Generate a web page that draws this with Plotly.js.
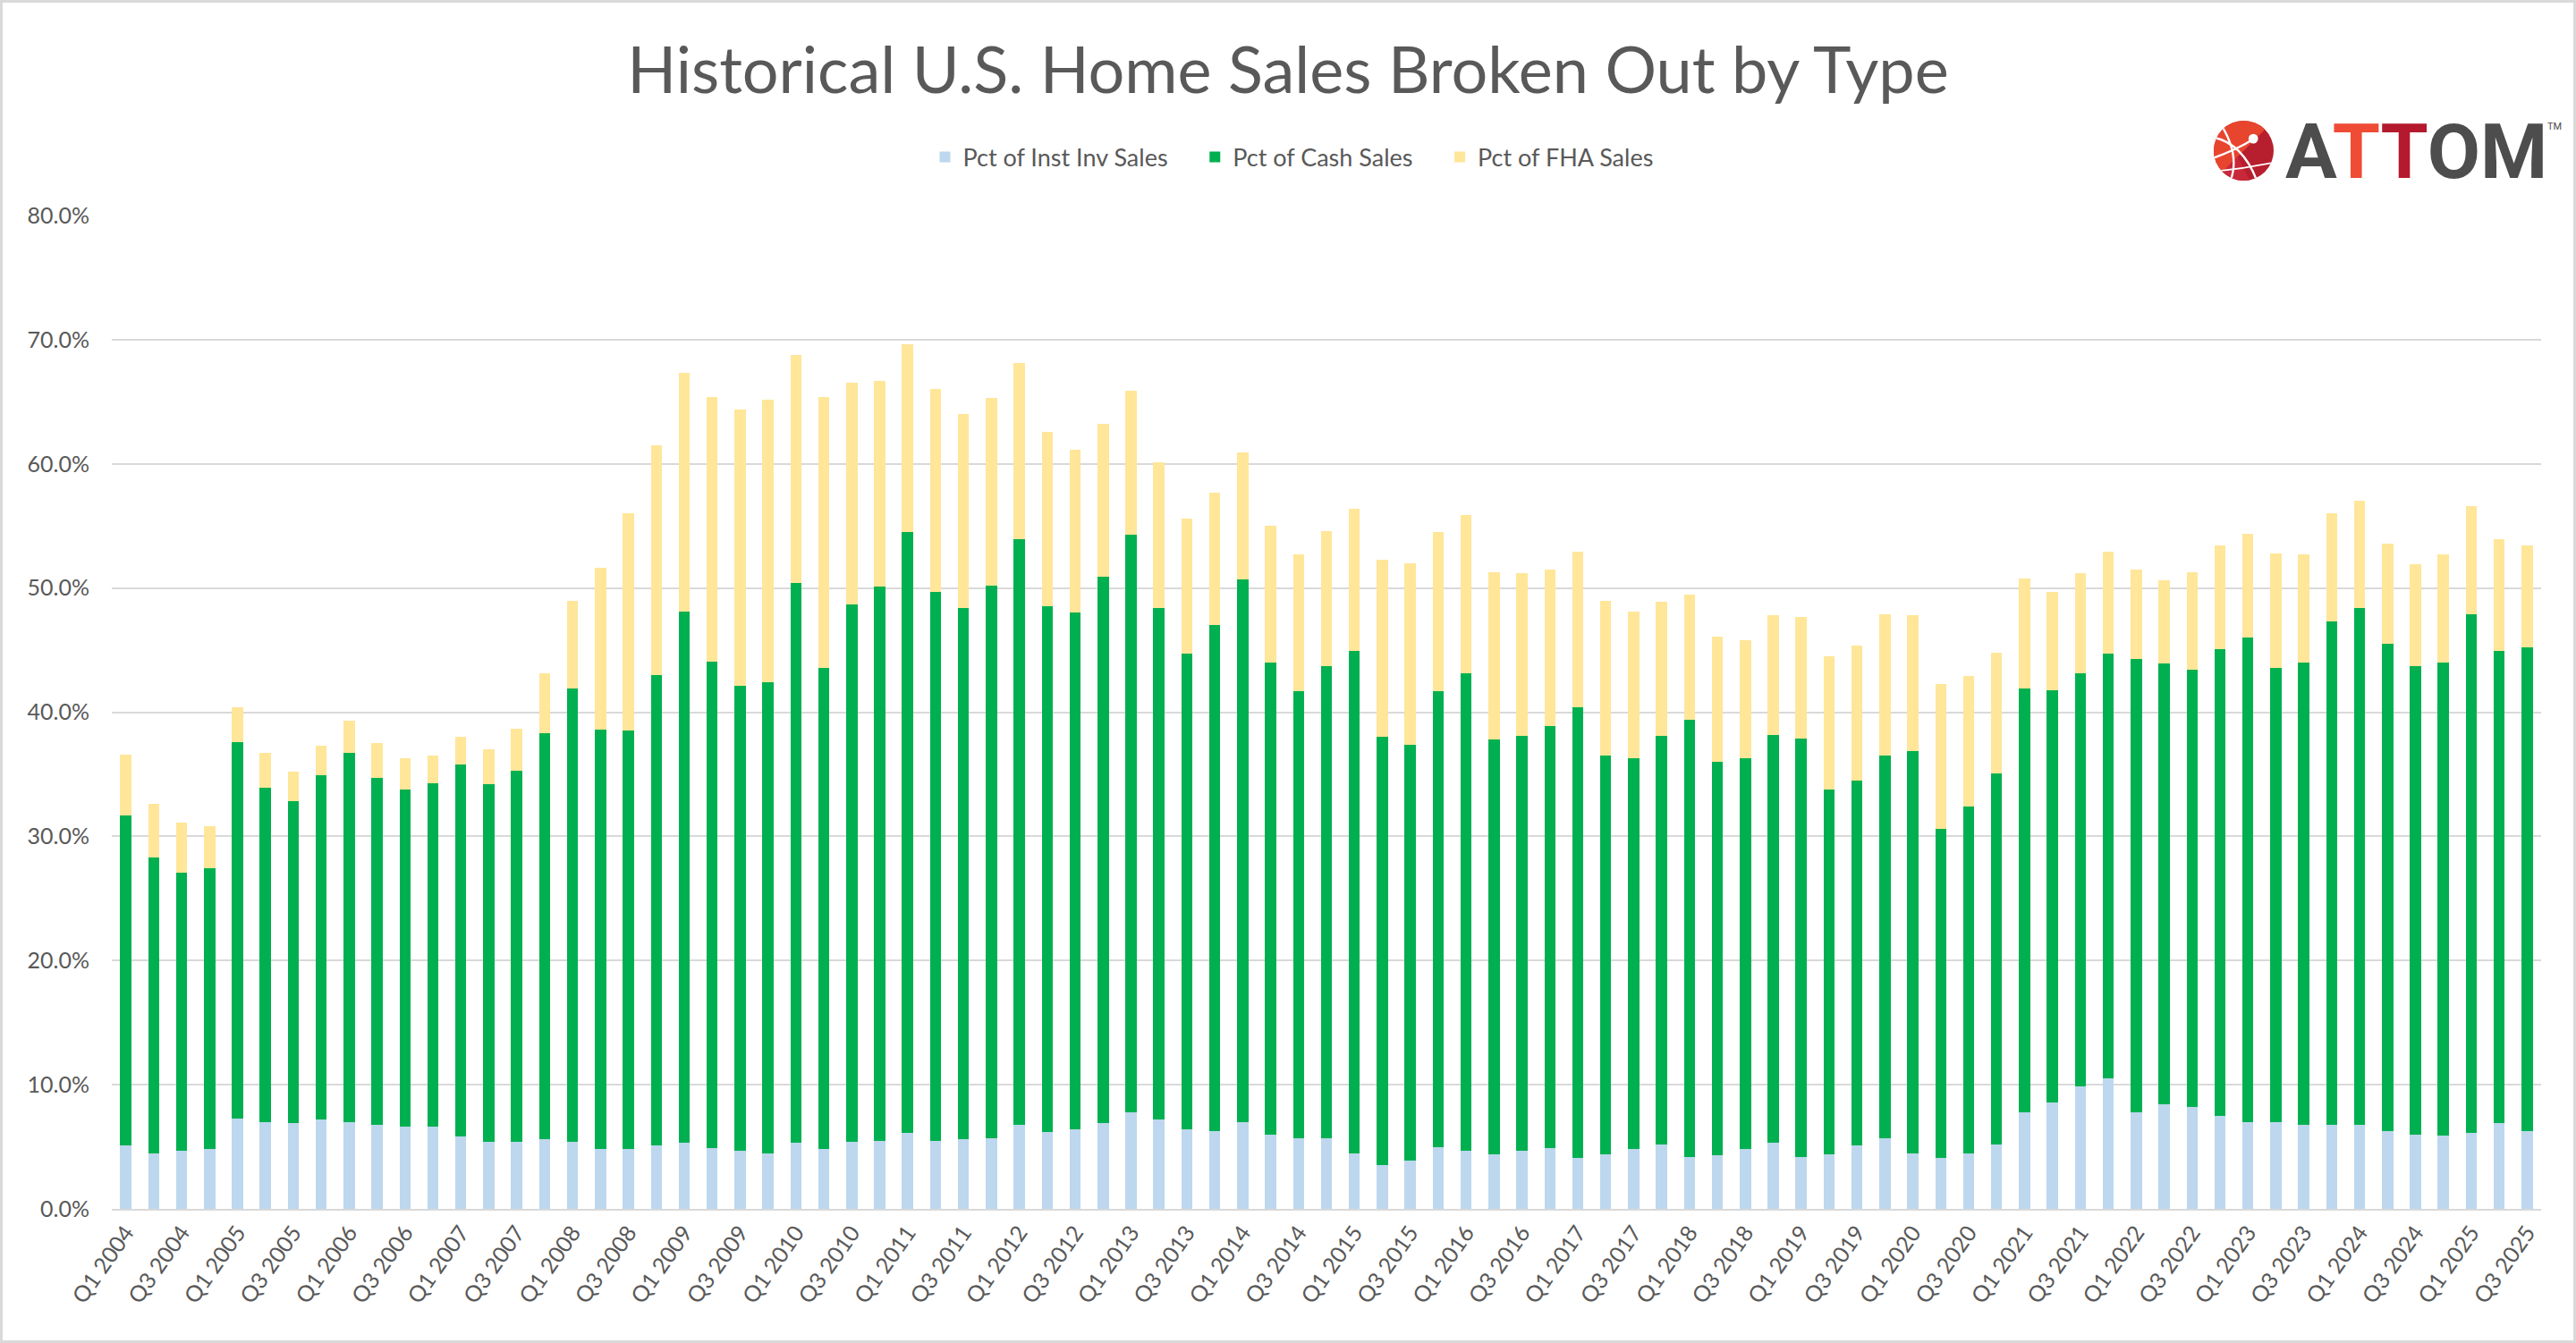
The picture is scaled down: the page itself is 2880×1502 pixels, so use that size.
<!DOCTYPE html>
<html>
<head>
<meta charset="utf-8">
<script src="https://cdn.plot.ly/plotly-3.0.1.min.js"></script>
<style>
  html, body { margin: 0; padding: 0; background: #ffffff; }
  #wrap { position: relative; width: 2880px; height: 1502px; }
  #chart { width: 2880px; height: 1502px; }
  #frame { position: absolute; left: 0; top: 0; width: 2880px; height: 1502px; box-sizing: border-box; border: 3px solid #d9d9d9; pointer-events: none; }
</style>
</head>
<body>
<div id="wrap"><div id="chart"></div><div id="frame"></div></div>
<script>
const quarters = [
  "Q1 2004","Q2 2004","Q3 2004","Q4 2004",
  "Q1 2005","Q2 2005","Q3 2005","Q4 2005",
  "Q1 2006","Q2 2006","Q3 2006","Q4 2006",
  "Q1 2007","Q2 2007","Q3 2007","Q4 2007",
  "Q1 2008","Q2 2008","Q3 2008","Q4 2008",
  "Q1 2009","Q2 2009","Q3 2009","Q4 2009",
  "Q1 2010","Q2 2010","Q3 2010","Q4 2010",
  "Q1 2011","Q2 2011","Q3 2011","Q4 2011",
  "Q1 2012","Q2 2012","Q3 2012","Q4 2012",
  "Q1 2013","Q2 2013","Q3 2013","Q4 2013",
  "Q1 2014","Q2 2014","Q3 2014","Q4 2014",
  "Q1 2015","Q2 2015","Q3 2015","Q4 2015",
  "Q1 2016","Q2 2016","Q3 2016","Q4 2016",
  "Q1 2017","Q2 2017","Q3 2017","Q4 2017",
  "Q1 2018","Q2 2018","Q3 2018","Q4 2018",
  "Q1 2019","Q2 2019","Q3 2019","Q4 2019",
  "Q1 2020","Q2 2020","Q3 2020","Q4 2020",
  "Q1 2021","Q2 2021","Q3 2021","Q4 2021",
  "Q1 2022","Q2 2022","Q3 2022","Q4 2022",
  "Q1 2023","Q2 2023","Q3 2023","Q4 2023",
  "Q1 2024","Q2 2024","Q3 2024","Q4 2024",
  "Q1 2025","Q2 2025","Q3 2025"
];

// Shown tick labels (Q1 and Q3 only)
const tickLabels = [
  "Q1 2004","Q3 2004","Q1 2005","Q3 2005","Q1 2006","Q3 2006","Q1 2007","Q3 2007",
  "Q1 2008","Q3 2008","Q1 2009","Q3 2009","Q1 2010","Q3 2010","Q1 2011","Q3 2011",
  "Q1 2012","Q3 2012","Q1 2013","Q3 2013","Q1 2014","Q3 2014","Q1 2015","Q3 2015",
  "Q1 2016","Q3 2016","Q1 2017","Q3 2017","Q1 2018","Q3 2018","Q1 2019","Q3 2019",
  "Q1 2020","Q3 2020","Q1 2021","Q3 2021","Q1 2022","Q3 2022","Q1 2023","Q3 2023",
  "Q1 2024","Q3 2024","Q1 2025","Q3 2025"
];

const instInvPct = [
  5.1,4.5,4.7,4.8, 7.3,7.0,6.9,7.2, 7.0,6.8,6.6,6.6, 5.8,5.4,5.4,5.6,
  5.4,4.8,4.8,5.1, 5.3,4.9,4.7,4.5, 5.3,4.8,5.4,5.5, 6.1,5.5,5.6,5.7,
  6.8,6.2,6.4,6.9, 7.8,7.2,6.4,6.3, 7.0,6.0,5.7,5.7, 4.5,3.5,3.9,5.0,
  4.7,4.4,4.7,4.9, 4.1,4.4,4.8,5.2, 4.2,4.3,4.8,5.3, 4.2,4.4,5.1,5.7,
  4.5,4.1,4.5,5.2, 7.8,8.6,9.9,10.5, 7.8,8.4,8.2,7.5, 7.0,7.0,6.8,6.8,
  6.8,6.3,6.0,5.9, 6.1,6.9,6.3
];

const cashPct = [
  26.6,23.8,22.4,22.6, 30.3,26.9,25.9,27.7, 29.7,27.9,27.2,27.7, 30.0,28.8,29.9,32.7,
  36.5,33.8,33.7,37.9, 42.8,39.2,37.4,37.9, 45.1,38.8,43.3,44.6, 48.4,44.2,42.8,44.5,
  47.1,42.3,41.6,44.0, 46.5,41.2,38.3,40.7, 43.7,38.0,36.0,38.0, 40.4,34.5,33.5,36.7,
  38.4,33.4,33.4,34.0, 36.3,32.1,31.5,32.9, 35.2,31.7,31.5,32.9, 33.7,29.4,29.4,30.8,
  32.4,26.5,27.9,29.9, 34.1,33.2,33.2,34.2, 36.5,35.5,35.2,37.6, 39.0,36.6,37.2,40.5,
  41.6,39.2,37.7,38.1, 41.8,38.0,38.9
];

const fhaPct = [
  4.9,4.3,4.0,3.4, 2.8,2.8,2.4,2.4, 2.6,2.8,2.5,2.2, 2.2,2.8,3.4,4.8,
  7.1,13.0,17.5,18.5, 19.2,21.3,22.3,22.8, 18.4,21.8,17.8,16.6, 15.1,16.3,15.6,15.1,
  14.2,14.1,13.1,12.3, 11.6,11.7,10.9,10.7, 10.2,11.0,11.0,10.9, 11.5,14.3,14.6,12.8,
  12.8,13.5,13.1,12.6, 12.5,12.5,11.8,10.8, 10.1,10.1,9.5,9.6, 9.8,10.7,10.9,11.4,
  10.9,11.7,10.5,9.7, 8.9,7.9,8.1,8.2, 7.2,6.7,7.9,8.3, 8.4,9.2,8.7,8.7,
  8.6,8.1,8.2,8.7, 8.7,9.0,8.2
];

const yTicks = [0,10,20,30,40,50,60,70,80];
const yTickLabels = ["0.0%","10.0%","20.0%","30.0%","40.0%","50.0%","60.0%","70.0%","80.0%"];

const seriesNames = ["Pct of Inst Inv Sales","Pct of Cash Sales","Pct of FHA Sales"];
const seriesColors = ["#BDD7EE","#00B050","#FFE699"];
const seriesValues = [instInvPct, cashPct, fhaPct];

// extra trailing gap after the first two legend entries (visual spacing only)
const legendGap = "\u00a0\u00a0\u00a0\u00a0";

const traces = seriesValues.map((vals, i) => ({
  type: "bar",
  name: seriesNames[i] + (i < seriesNames.length - 1 ? legendGap : ""),
  x: quarters,
  y: vals,
  marker: { color: seriesColors[i], line: { width: 0 } },
  hoverinfo: "skip"
}));

const textColor = "#595959";
const fontFam = "Lato, 'Open Sans', sans-serif";

const iconSvg = "<svg xmlns='http://www.w3.org/2000/svg' viewBox='0 0 100 100'>" +
  "<defs><clipPath id='c'><circle cx='50' cy='50' r='50'/></clipPath></defs>" +
  "<g clip-path='url(#c)'>" +
  "<rect width='100' height='100' fill='#b71f2e'/>" +
  "<polygon points='0,0 100,0 0,100' fill='#e8452f'/>" +
  "<polygon points='0,100 40,60 60,100' fill='#c9283a'/>" +
  "<path d='M0,28 Q48,38 72,100' stroke='white' stroke-width='3.5' fill='none'/>" +
  "<path d='M8,0 Q45,55 28,100' stroke='white' stroke-width='3.5' fill='none'/>" +
  "<path d='M0,62 Q38,48 64,32' stroke='white' stroke-width='3.5' fill='none'/>" +
  "<path d='M0,85 Q50,80 100,70' stroke='white' stroke-width='2.5' fill='none'/>" +
  "</g>" +
  "<circle cx='66' cy='30' r='8' fill='white'/></svg>";

const layout = {
  width: 2880,
  height: 1502,
  paper_bgcolor: "#ffffff",
  plot_bgcolor: "#ffffff",
  margin: { l: 125, r: 39, t: 241, b: 150 },
  barmode: "stack",
  bargap: 0.6,
  font: { family: fontFam, color: textColor, size: 25 },
  title: {
    text: "Historical U.S. Home Sales Broken Out by Type",
    font: { family: fontFam, size: 72, color: textColor },
    x: 0.5, xref: "container", xanchor: "center",
    y: 1 - 79 / 1502, yref: "container", yanchor: "middle"
  },
  showlegend: true,
  legend: {
    orientation: "h",
    x: 1445 / 2880, xref: "container", xanchor: "center",
    y: 1 - 176 / 1502, yref: "container", yanchor: "middle",
    font: { family: fontFam, size: 27, color: textColor },
    traceorder: "normal",
    itemwidth: 30,
    bgcolor: "rgba(0,0,0,0)"
  },
  xaxis: {
    type: "category",
    tickmode: "array",
    tickvals: tickLabels,
    ticktext: tickLabels,
    tickangle: -55,
    tickfont: { family: fontFam, size: 25, color: textColor },
    showgrid: false,
    showline: true,
    linecolor: "#d9d9d9",
    linewidth: 2,
    ticks: "",
    fixedrange: true
  },
  yaxis: {
    range: [0, 80],
    tickmode: "array",
    tickvals: yTicks,
    ticktext: yTickLabels,
    tickfont: { family: fontFam, size: 25, color: textColor },
    showgrid: true,
    gridcolor: "#d9d9d9",
    gridwidth: 2,
    zeroline: false,
    showline: false,
    ticks: "",
    ticklabelstandoff: 24,
    fixedrange: true
  },
  images: [{
    source: "data:image/svg+xml;charset=utf-8," + encodeURIComponent(iconSvg),
    xref: "paper", yref: "paper",
    x: (2475 - 125) / 2716, y: (1352 - 135) / 1111,
    sizex: 67 / 2716, sizey: 67 / 1111,
    xanchor: "left", yanchor: "top",
    sizing: "stretch",
    layer: "above"
  }],
  annotations: [
    {
      text: "<b><span style='color:#4d4d4d'>A</span><span style='color:#ef4b35'>T</span><span style='color:#b5192d'>T</span><span style='color:#4d4d4d'>OM</span></b>",
      xref: "paper", yref: "paper",
      x: (2553 - 125) / 2716, y: (1352 - 170) / 1111,
      xanchor: "left", yanchor: "middle",
      showarrow: false,
      font: { family: "Roboto, sans-serif", size: 86, color: "#4d4d4d" }
    },
    {
      text: "TM",
      xref: "paper", yref: "paper",
      x: (2846 - 125) / 2716, y: (1352 - 141) / 1111,
      xanchor: "left", yanchor: "middle",
      showarrow: false,
      font: { family: "Roboto, sans-serif", size: 11, color: "#4d4d4d" }
    }
  ]
};

Plotly.newPlot("chart", traces, layout, { staticPlot: true, displayModeBar: false });
</script>
</body>
</html>
